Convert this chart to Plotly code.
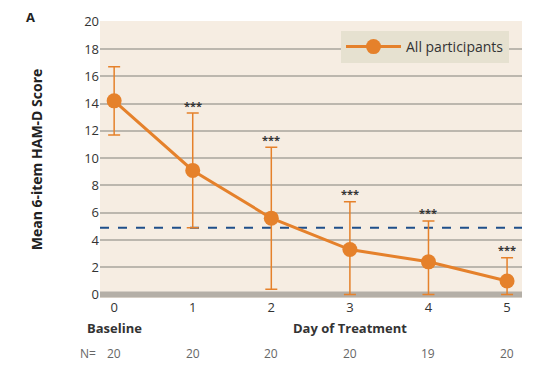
import plotly.graph_objects as go

days = [0, 1, 2, 3, 4, 5]
tick_labels = ["0", "1", "2", "3", "4", "5"]
mean_score = [14.2, 9.1, 5.6, 3.3, 2.4, 1.0]
upper_ci = [16.7, 13.3, 10.8, 6.8, 5.4, 2.7]
lower_ci = [11.7, 4.9, 0.4, 0.0, 0.0, 0.0]
n_values = ["20", "20", "20", "20", "19", "20"]
significance = ["", "***", "***", "***", "***", "***"]
threshold = 4.9

ORANGE = "#e5812b"
FONT = "Open Sans"

fig = go.Figure()

# threshold dashed line
fig.add_trace(go.Scatter(
    x=[-0.18, 5.19], y=[threshold, threshold], mode="lines",
    line=dict(color="#1f4f8a", width=2, dash="dash"),
    showlegend=False, hoverinfo="skip"))

# baseline gray band
fig.add_trace(go.Scatter(
    x=[-0.18, 5.19], y=[0, 0], mode="lines",
    line=dict(color="#b4afa7", width=6),
    showlegend=False, hoverinfo="skip"))

fig.add_trace(go.Scatter(
    x=days, y=mean_score, mode="lines+markers", name="All participants",
    line=dict(color=ORANGE, width=3),
    marker=dict(color=ORANGE, size=15),
    error_y=dict(type="data", symmetric=False,
                 array=[u - m for u, m in zip(upper_ci, mean_score)],
                 arrayminus=[m - l for m, l in zip(mean_score, lower_ci)],
                 color=ORANGE, thickness=1.5, width=6)))

# page has an 8px body margin; target plot area on screen: x 100..522, y ~21..298
OFF = 8
L, R, T, B = 100 - OFF, 522 - OFF, 21 - OFF, 298 - OFF
W, H = 543, 368

def px_to_paper_x(px):
    return (px - OFF - L) / float(R - L)

def px_to_paper_y(py):
    return (B - (py - OFF)) / float(B - T)

annotations = []
for d, u, s in zip(days, upper_ci, significance):
    if s:
        annotations.append(dict(x=d, y=u, xref="x", yref="y", text="<b>" + s + "</b>",
                                showarrow=False, yshift=8,
                                font=dict(family=FONT, size=11, color="#333333")))
for d, n in zip(days, n_values):
    annotations.append(dict(x=d, y=px_to_paper_y(353), xref="x", yref="paper", text=n,
                            xanchor="center", yanchor="middle",
                            showarrow=False, font=dict(family=FONT, size=12, color="#666666")))
annotations.append(dict(x=px_to_paper_x(88), y=px_to_paper_y(353), xref="paper", yref="paper",
                        text="N=", showarrow=False, xanchor="center", yanchor="middle",
                        font=dict(family=FONT, size=12, color="#666666")))
annotations.append(dict(x=0, y=px_to_paper_y(328), xref="x", yref="paper", text="<b>Baseline</b>",
                        xanchor="center", yanchor="middle",
                        showarrow=False, font=dict(family=FONT, size=13, color="#333333")))
annotations.append(dict(x=3.0, y=px_to_paper_y(328), xref="x", yref="paper",
                        text="<b>Day of Treatment</b>", xanchor="center", yanchor="middle",
                        showarrow=False, font=dict(family=FONT, size=13, color="#333333")))
annotations.append(dict(x=px_to_paper_x(30), y=px_to_paper_y(17), xref="paper", yref="paper",
                        text="<b>A</b>", showarrow=False, xanchor="center", yanchor="middle",
                        font=dict(family=FONT, size=13, color="#222222")))

fig.update_layout(
    width=W, height=H,
    margin=dict(l=L, r=W - R, t=T, b=H - B, autoexpand=False),
    paper_bgcolor="white", plot_bgcolor="#f6ede2",
    font=dict(family=FONT, color="#333333"),
    showlegend=True,
    legend=dict(x=px_to_paper_x(509), xanchor="right", y=px_to_paper_y(31), yanchor="top",
                bgcolor="#e6e1d0", itemwidth=55, tracegroupgap=0,
                font=dict(family=FONT, size=14, color="#333333")),
    xaxis=dict(range=[-0.18, 5.19], tickvals=days, ticktext=tick_labels,
               showgrid=False, zeroline=False, showline=False, automargin=False,
               tickfont=dict(family=FONT, size=13, color="#333333"), ticks=""),
    yaxis=dict(range=[-0.25, 20.05], tickvals=list(range(0, 21, 2)), automargin=False,
               showgrid=True, gridcolor="#bcb7ae", gridwidth=1.5, zeroline=False,
               tickfont=dict(family=FONT, size=13, color="#333333"), ticks="",
               title=dict(text="<b>Mean 6-item HAM-D Score</b>", standoff=38,
                          font=dict(family=FONT, size=14, color="#222222"))),
    annotations=annotations,
)

fig.write_html("out.html")
